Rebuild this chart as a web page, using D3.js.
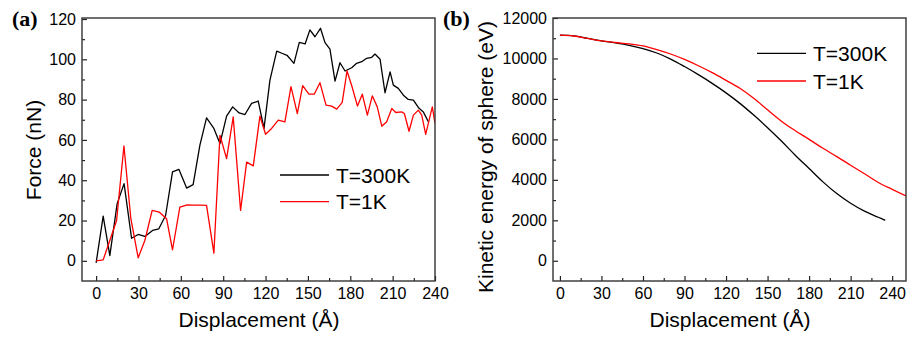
<!DOCTYPE html>
<html>
<head>
<meta charset="utf-8">
<script src="https://cdn.jsdelivr.net/npm/d3@7"></script>
<style>
  body { margin: 0; background: #fff; }
  svg { font-family: "Liberation Sans", Arial, sans-serif; }
  .tick text { font-size: 16px; fill: #000; }
  .axis path { display: none; }
  .axis line { stroke: #222; stroke-width: 1.2; }
  .frame { fill: none; stroke: #333; stroke-width: 1.4; }
  .title { font-size: 21px; fill: #000; }
  .panel { font-family: "Liberation Serif", "Times New Roman", serif; font-weight: bold; font-size: 22px; }
</style>
</head>
<body>
<svg width="911" height="343"></svg>
<script>
// (a) force vs displacement
const forceX300 = [0,5,9.7,14.9,19.8,25.1,29.8,34.5,40,44.4,49.2,54.1,58.6,64.1,68.7,73.5,78.2,83.4,87.7,92.4,96.7,101.3,105.4,110.1,114.8,118.9,123.1,127.9,131.6,135.2,140.1,143.9,148,151.4,155,158.9,162.1,165.6,169.2,172.7,176.3,181,184.5,188.1,191.6,195.2,197.5,201.1,204.6,208.2,210.5,214,217.6,221.1,224.7,228.2,231.7,235.3];
const forceY300 = [-1,22.2,2.6,28.4,38.3,11.2,13.1,12.1,15.1,15.9,22.5,44.1,45.4,36.1,37.8,57.4,70.9,65.7,58.2,71.8,76.4,73.4,72.6,78.1,79.3,65.7,89.7,104.1,103,102,98,108.4,107.6,114.6,111.2,115.4,108.3,105.1,89.2,98.3,94.2,95.8,98,98.8,100.5,101,102.6,100,83.4,93.8,87.2,85.6,82.2,80.1,79.7,76.1,73.9,69];
const forceX1 = [0,5,9.7,14.5,19.7,24.6,29.8,34.5,39.7,44.6,49.9,54.1,59.3,64,68.8,73.5,78.2,83.4,87.7,92.4,97.1,102.3,106.6,111.3,116,120,124.3,129,133.7,138,142.5,146.3,150.7,154.5,158.5,162.8,166.8,170.4,174.3,177.7,181.2,185.1,188.5,192.1,195.6,199.1,202.3,205.8,209.4,212.2,216.4,218.3,221.6,224.7,228.2,230.6,233.4,238.1,240];
const forceY1 = [0,0.5,10.1,20,57,20.9,1.5,10.1,25,24.2,20.9,5.5,26.7,27.7,27.6,27.6,27.5,3.8,62.3,50.7,71.4,25,49,47.1,71.8,62.8,65.7,69.8,69,86.4,73.1,86.9,82.7,82.7,88.4,77.3,76.8,75.3,78.6,94.2,86.5,76.8,82.7,72.3,81.9,76.4,66.8,69,75.6,73.6,73.9,73.1,64.3,72.3,74.8,72.3,62.8,76.4,68.2];

// (b) kinetic energy vs displacement
const keX300 = [0,10,20,30,40,50,60,70,80,90,100,110,120,130,140,150,160,170,180,190,200,210,220,230,235];
const keY300 = [11150,11120,10990,10870,10770,10650,10490,10270,9970,9600,9200,8770,8300,7780,7200,6580,5920,5220,4560,3900,3320,2840,2450,2150,2000];
const keX1 = [0,10,20,30,40,50,60,70,80,90,100,110,120,130,140,150,160,170,180,190,200,210,220,230,240,250];
const keY1 = [11150,11110,10990,10870,10790,10720,10620,10440,10220,9950,9640,9300,8920,8530,8030,7460,6900,6430,6000,5560,5150,4720,4300,3870,3530,3200];

const xTicks = [0,30,60,90,120,150,180,210,240];
const legendLabels = ["T=300K", "T=1K"];
const colors = ["#000", "#ff0000"];

const svg = d3.select("svg");

function panel(opts) {
  const x = d3.scaleLinear().domain(opts.xDomain).range([opts.left, opts.right]);
  const y = d3.scaleLinear().domain(opts.yDomain).range([opts.bottom, opts.top]);
  const g = svg.append("g");

  // minor ticks
  g.append("g").attr("class", "axis")
    .attr("transform", `translate(0,${opts.bottom})`)
    .call(d3.axisBottom(x).tickValues(opts.xMinor).tickSize(-3).tickSizeOuter(0).tickFormat(""));
  g.append("g").attr("class", "axis")
    .attr("transform", `translate(${opts.left},0)`)
    .call(d3.axisLeft(y).tickValues(opts.yMinor).tickSize(-3).tickSizeOuter(0).tickFormat(""));

  // major ticks
  g.append("g").attr("class", "axis")
    .attr("transform", `translate(0,${opts.bottom})`)
    .call(d3.axisBottom(x).tickValues(xTicks).tickSize(-5).tickSizeOuter(0).tickPadding(7).tickFormat(d3.format("d")));
  g.append("g").attr("class", "axis")
    .attr("transform", `translate(${opts.left},0)`)
    .call(d3.axisLeft(y).tickValues(opts.yTicks).tickSize(-5).tickSizeOuter(0).tickPadding(6).tickFormat(d3.format("d")));

  const clipId = "clip" + opts.name;
  svg.append("clipPath").attr("id", clipId).append("rect")
    .attr("x", opts.left).attr("y", opts.top)
    .attr("width", opts.right - opts.left).attr("height", opts.bottom - opts.top);

  const line = d3.line().x(d => x(d[0])).y(d => y(d[1])).curve(opts.curve);
  opts.series.forEach((s, i) => {
    g.append("path")
      .datum(d3.zip(s[0], s[1]))
      .attr("clip-path", `url(#${clipId})`)
      .attr("fill", "none")
      .attr("stroke", colors[i])
      .attr("stroke-width", 1.3)
      .attr("stroke-linejoin", "round")
      .attr("d", line);
  });

  g.append("rect").attr("class", "frame")
    .attr("x", opts.left).attr("y", opts.top)
    .attr("width", opts.right - opts.left).attr("height", opts.bottom - opts.top);

  // legend
  legendLabels.forEach((lab, i) => {
    const ly = opts.legY + i * opts.legGap;
    g.append("line")
      .attr("x1", opts.legX).attr("x2", opts.legX + 49)
      .attr("y1", ly).attr("y2", ly)
      .attr("stroke", colors[i]).attr("stroke-width", 1.3);
    g.append("text").attr("class", "title")
      .attr("x", opts.legX + 56).attr("y", ly + 7.5)
      .text(lab);
  });

  g.append("text").attr("class", "title")
    .attr("text-anchor", "middle")
    .attr("x", opts.xTitleX).attr("y", 327)
    .text("Displacement (Å)");
  g.append("text").attr("class", "title")
    .attr("text-anchor", "middle")
    .attr("transform", `translate(${opts.yTitleX},${opts.yTitleY}) rotate(-90)`)
    .text(opts.yTitle);
  g.append("text").attr("class", "panel")
    .attr("x", opts.panelX).attr("y", 26)
    .text(opts.panelLabel);
}

panel({
  name: "a",
  left: 82, right: 435, top: 18, bottom: 281,
  xDomain: [-10, 240], yDomain: [-10, 120.5],
  yTicks: [0,20,40,60,80,100,120],
  xMinor: [15,45,75,105,135,165,195,225],
  yMinor: [10,30,50,70,90,110],
  series: [[forceX300, forceY300], [forceX1, forceY1]],
  curve: d3.curveLinear,
  legX: 280, legY: 175, legGap: 26.7,
  xTitleX: 259, yTitleX: 41, yTitleY: 150,
  yTitle: "Force (nN)",
  panelX: 12, panelLabel: "(a)"
});

panel({
  name: "b",
  left: 553, right: 906, top: 18, bottom: 281,
  xDomain: [-5, 250], yDomain: [-1000, 12000],
  yTicks: [0,2000,4000,6000,8000,10000,12000],
  xMinor: [15,45,75,105,135,165,195,225],
  yMinor: [1000,3000,5000,7000,9000,11000],
  series: [[keX300, keY300], [keX1, keY1]],
  curve: d3.curveMonotoneX,
  legX: 757, legY: 53.3, legGap: 27.7,
  xTitleX: 730, yTitleX: 493, yTitleY: 157,
  yTitle: "Kinetic energy of sphere (eV)",
  panelX: 443, panelLabel: "(b)"
});
</script>
</body>
</html>
